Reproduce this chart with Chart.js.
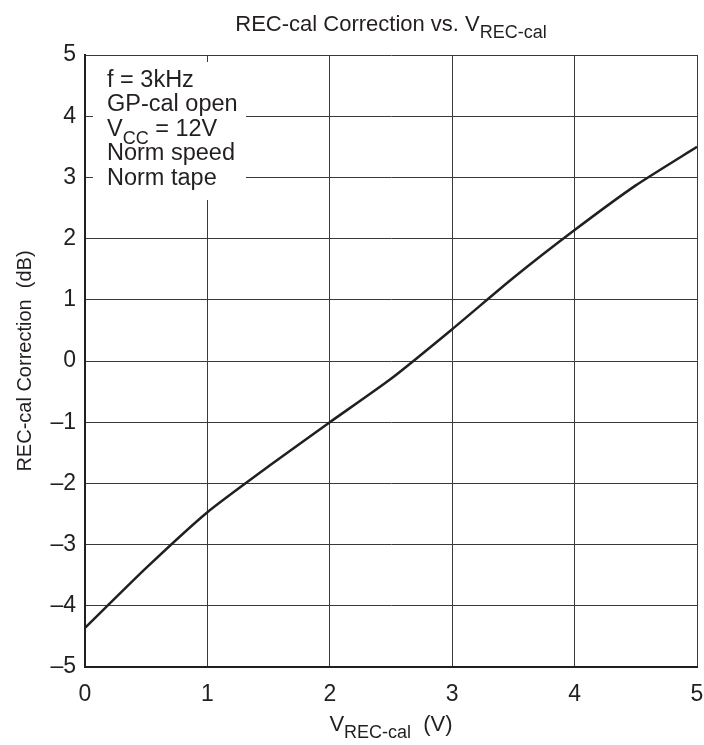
<!DOCTYPE html>
<html>
<head>
<meta charset="utf-8">
<script src="https://cdn.jsdelivr.net/npm/chart.js@4.4.1/dist/chart.umd.min.js"></script>
<style>
  html, body { margin: 0; padding: 0; background: #fff; }
  #wrap { width: 704px; height: 745px; position: relative; }
</style>
</head>
<body>
<div id="wrap"><canvas id="chart"></canvas></div>
<script>
// data
const vRecCal = [0, 0.5, 1, 1.5, 2, 2.5, 3, 3.5, 4, 4.5, 5];
const correctionDb = [-4.36, -3.38, -2.47, -1.72, -1.0, -0.29, 0.52, 1.36, 2.14, 2.87, 3.5];
const xTicks = [0, 1, 2, 3, 4, 5];
const yTicks = [-5, -4, -3, -2, -1, 0, 1, 2, 3, 4, 5];
const noteLines = ["f = 3kHz", "GP-cal open", "V|CC| = 12V", "Norm speed", "Norm tape"];

const FONT = "'Liberation Sans', Arial, sans-serif";
const INK = "#231f20";

// draws text with subscript parts marked like "V|CC| = 12V"
function drawRich(ctx, text, x, y, size, subSize, align) {
  const parts = text.split("|");
  let total = 0;
  parts.forEach((p, i) => {
    ctx.font = (i % 2 ? subSize : size) + "px " + FONT;
    total += ctx.measureText(p).width;
  });
  let cx = align === "center" ? x - total / 2 : x;
  ctx.textAlign = "left";
  ctx.textBaseline = "alphabetic";
  parts.forEach((p, i) => {
    const sub = i % 2 === 1;
    ctx.font = (sub ? subSize : size) + "px " + FONT;
    ctx.fillText(p, cx, y + (sub ? size * 0.33 : 0));
    cx += ctx.measureText(p).width;
  });
}

const textPlugin = {
  id: "textPlugin",
  beforeDatasetsDraw(chart) {
    const { ctx, chartArea } = chart;
    ctx.save();
    // note box covering the grid
    ctx.fillStyle = "#fff";
    ctx.fillRect(chartArea.left + 8, chartArea.top + 7, 153, 138);
    ctx.fillStyle = INK;
    noteLines.forEach((line, i) => {
      drawRich(ctx, line, chartArea.left + 22, chartArea.top + 32 + i * 24.4, 23.5, 18, "left");
    });
    ctx.restore();
  },
  afterDraw(chart) {
    const { ctx, chartArea } = chart;
    const mid = (chartArea.left + chartArea.right) / 2;
    ctx.save();
    ctx.fillStyle = INK;
    drawRich(ctx, "REC-cal Correction vs. V|REC-cal|", mid, 31, 22, 18, "center");
    drawRich(ctx, "V|REC-cal|  (V)", mid, 731, 22, 18, "center");
    ctx.translate(31, (chartArea.top + chartArea.bottom) / 2);
    ctx.rotate(-Math.PI / 2);
    drawRich(ctx, "REC-cal Correction  (dB)", 0, 0, 20, 16, "center");
    ctx.restore();
  }
};

new Chart(document.getElementById("chart"), {
  type: "scatter",
  data: {
    datasets: [{
      data: vRecCal.map((v, i) => ({ x: v, y: correctionDb[i] })),
      showLine: true,
      borderColor: INK,
      borderWidth: 2.5,
      pointRadius: 0,
      tension: 0.2,
      fill: false
    }]
  },
  options: {
    responsive: true,
    maintainAspectRatio: false,
    animation: false,
    layout: { padding: { top: 55, right: 7, left: 0, bottom: 0 } },
    plugins: { legend: { display: false }, tooltip: { enabled: false } },
    scales: {
      x: {
        type: "linear",
        min: 0, max: 5,
        afterBuildTicks(scale) { scale.ticks = xTicks.map(v => ({ value: v })); },
        afterFit(scale) { scale.height = 78; scale.paddingLeft = 0; scale.paddingRight = 0; },
        grid: { color: "#3a3a3a", lineWidth: 1, drawTicks: false },
        border: { color: INK, width: 2 },
        ticks: { color: INK, padding: 14, maxRotation: 0, font: { family: FONT, size: 23 } }
      },
      y: {
        type: "linear",
        min: -5, max: 5,
        afterBuildTicks(scale) { scale.ticks = yTicks.map(v => ({ value: v })); },
        afterFit(scale) { scale.width = 85; scale.paddingTop = 0; scale.paddingBottom = 0; },
        grid: { color: "#3a3a3a", lineWidth: 1, drawTicks: false },
        border: { color: INK, width: 2 },
        ticks: {
          color: INK, padding: 9, font: { family: FONT, size: 23 },
          callback: v => String(v).replace("-", "\u2013")
        }
      }
    }
  },
  plugins: [textPlugin]
});
</script>
</body>
</html>
